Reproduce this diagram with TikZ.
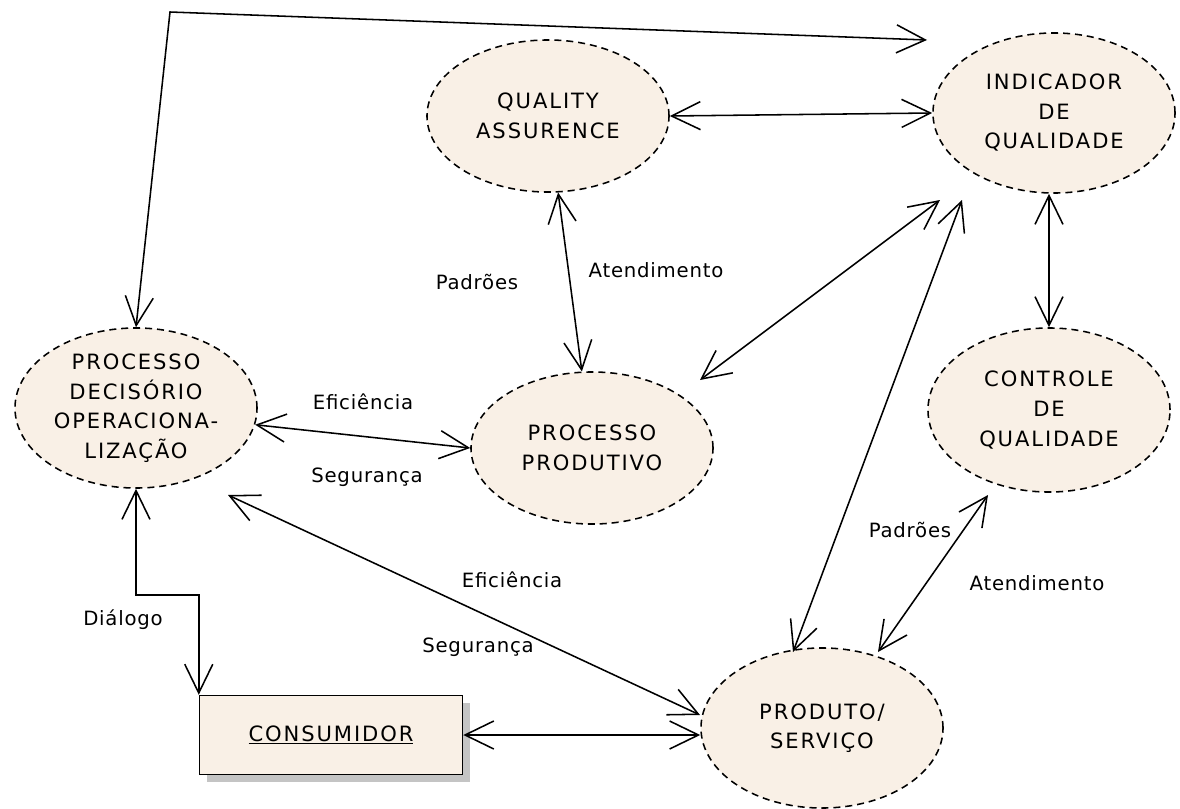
\documentclass[tikz,border=0pt]{standalone}
\usepackage{fontspec}
\setmainfont{DejaVu Sans}[LetterSpace=4]
\usetikzlibrary{positioning}
\usetikzlibrary{calc}
\usetikzlibrary{arrows.meta}
\usetikzlibrary{shapes.geometric}
\usetikzlibrary{shadows}

\definecolor{ovalfill}{RGB}{249,240,230}
\definecolor{shadowgray}{RGB}{196,196,196}

\newcommand{\capsfont}{\fontsize{15}{21}\selectfont\addfontfeature{LetterSpace=9}}

\tikzset{
  oval/.style={ellipse,draw,dash pattern=on 5pt off 3.5pt,line width=1.1pt,
    fill=ovalfill,inner sep=0pt,align=center,
    minimum width=6.05cm,minimum height=4cm,
    font=\capsfont},
  conbox/.style={rectangle,draw,line width=1pt,fill=ovalfill,
    minimum width=6.575cm,minimum height=1.975cm,
    font=\capsfont,
    drop shadow={shadow xshift=0.18cm,shadow yshift=-0.18cm,fill=shadowgray,opacity=1}},
  lbl/.style={font=\fontsize{14}{21}\selectfont,inner sep=1pt},
  link/.style={<->,line width=1.1pt}
}

\begin{document}
\begin{tikzpicture}[x=0.025cm,y=-0.025cm,
    >={Straight Barb[length=0.72cm,width=0.7cm]}]
  \useasboundingbox (0,0) rectangle (1180,809);

  % ovais
  \node[oval,minimum height=3.8cm] (qa) at (548,116) {QUALITY\\ASSURENCE};
  \node[oval] (ind) at (1054,113) {INDICADOR\\DE\\QUALIDADE};
  \node[oval] (dec) at (136,408) {PROCESSO\\DECISÓRIO\\OPERACIONA-\\LIZAÇÃO};
  \node[oval,minimum height=3.8cm] (prod) at (592,448) {PROCESSO\\PRODUTIVO};
  \node[oval,minimum height=4.1cm] (ctrl) at (1049,410) {CONTROLE\\DE\\QUALIDADE};
  \node[oval] (pserv) at (822,728) {PRODUTO/\\SERVIÇO};
  \node[conbox] (cons) at (331,735) {\underline{CONSUMIDOR}};

  % ligacoes
  \coordinate (topbend) at (170,12);
  \draw[link] (dec.north) -- (topbend) -- ($(ind)+(-127,-73)$);
  \draw[link] (qa.east) -- (ind.west);
  \draw[link] (qa) -- (prod);
  \draw[link] ($(ind)+(-114,87)$) -- ($(prod)+(108,-68)$);
  \draw[link] ($(ind)+(-92,87)$) -- ($(pserv)+(-29,-76)$);
  \draw[link] (ctrl.north |- ind.south) -- (ctrl.north);
  \draw[link] ($(ctrl)+(-61,85)$) -- ($(pserv)+(56,-76)$);
  \draw[link] (dec.-8) -- (prod.west);
  \draw[link] ($(dec)+(92,87)$) -- ($(pserv)+(-122,-13)$);
  \draw[link] (dec.south) -- ++(0,106) -| (cons.north west);
  \draw[link] (cons.east) -- (cons.east -| pserv.west);

  % rotulos
  \node[lbl] (padroesA) at (477,282) {Padrões};
  \node[lbl] (atendA) at (656,270) {Atendimento};
  \node[lbl] (eficA) at (363,402) {Eficiência};
  \node[lbl] (segurA) at (367,477) {Segurança};
  \node[lbl] (eficB) at (512,580) {Eficiência};
  \node[lbl] (segurB) at (478,647) {Segurança};
  \node[lbl] (padroesB) at (910,530) {Padrões};
  \node[lbl] (atendB) at (1037,583) {Atendimento};
  \node[lbl] (dialogo) at (123,620) {Diálogo};
\end{tikzpicture}
\end{document}
